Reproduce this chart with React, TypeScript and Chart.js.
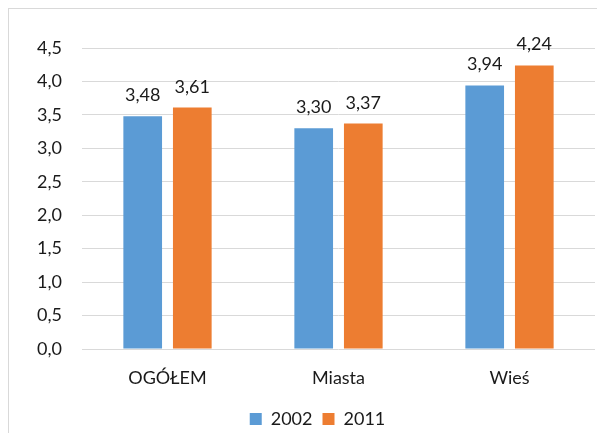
import React, { useEffect, useRef } from "react";
import { Chart, registerables } from "chart.js";

Chart.register(...registerables);

const categories = ["OGÓŁEM", "Miasta", "Wieś"];
const series2002 = [3.48, 3.3, 3.94];
const series2011 = [3.61, 3.37, 4.24];
const seriesLabels = ["2002", "2011"];
const yMin = 0;
const yMax = 4.5;
const yStep = 0.5;

const fmt = (v: number, d: number) => v.toFixed(d).replace(".", ",");

const TEXT = "#1a1a1a";

const dataLabelPlugin = {
  id: "dataLabels",
  afterDatasetsDraw(chart: any) {
    const ctx = chart.ctx;
    ctx.save();
    ctx.font = "18px Lato";
    ctx.fillStyle = TEXT;
    ctx.textAlign = "center";
    ctx.textBaseline = "alphabetic";
    chart.data.datasets.forEach((ds: any, i: number) => {
      const meta = chart.getDatasetMeta(i);
      meta.data.forEach((el: any, j: number) => {
        ctx.fillText(fmt(ds.data[j], 2), el.x, el.y - 15);
      });
    });
    ctx.restore();
  },
};

export default function App() {
  const ref = useRef<HTMLCanvasElement>(null);
  useEffect(() => {
    if (!ref.current) return;
    Chart.defaults.color = TEXT;
    Chart.defaults.font.family = "Lato";
    Chart.defaults.font.size = 18;
    const chart = new Chart(ref.current, {
      type: "bar",
      data: {
        labels: categories,
        datasets: [
          {
            label: seriesLabels[0],
            data: series2002,
            backgroundColor: "#5b9bd5",
            categoryPercentage: 0.58,
            barPercentage: 0.78,
            yAxisID: "y",
          },
          {
            label: seriesLabels[1],
            data: series2011,
            backgroundColor: "#ed7d31",
            categoryPercentage: 0.58,
            barPercentage: 0.78,
            yAxisID: "y",
          },
        ],
      },
      options: {
        responsive: false,
        animation: false,
        layout: { padding: { top: 39, left: 0, right: 0, bottom: 0 } },
        plugins: {
          legend: {
            position: "bottom",
            labels: { boxWidth: 12, boxHeight: 12, padding: 10, font: { size: 18 } },
          },
          tooltip: { enabled: false },
        },
        scales: {
          x: {
            grid: { display: false, drawTicks: false },
            border: { display: false },
            ticks: { padding: 18, font: { size: 18 } },
            afterFit: (s: any) => {
              s.height = 51;
            },
          },
          y: {
            position: "left",
            min: yMin,
            max: yMax,
            grid: { color: "#d9d9d9", drawTicks: false, lineWidth: 1 },
            border: { display: false },
            ticks: {
              stepSize: yStep,
              padding: 20,
              font: { size: 18 },
              callback: (v: any) => fmt(Number(v), 1),
            },
            afterFit: (s: any) => {
              s.width = 73;
            },
          },
          yRight: {
            position: "right",
            min: yMin,
            max: yMax,
            grid: { display: false, drawTicks: false },
            border: { display: false },
            ticks: { display: false },
            afterFit: (s: any) => {
              s.width = 31;
            },
          },
        },
      },
      plugins: [dataLabelPlugin],
    });
    return () => chart.destroy();
  }, []);
  return (
    <div
      style={{
        width: 597,
        height: 425,
        overflow: "hidden",
        borderLeft: "1px solid #d9d9d9",
        borderTop: "1px solid #d9d9d9",
        boxSizing: "border-box",
        background: "#fff",
      }}
    >
      <canvas ref={ref} width={617} height={429} style={{ display: "block" }} />
    </div>
  );
}
